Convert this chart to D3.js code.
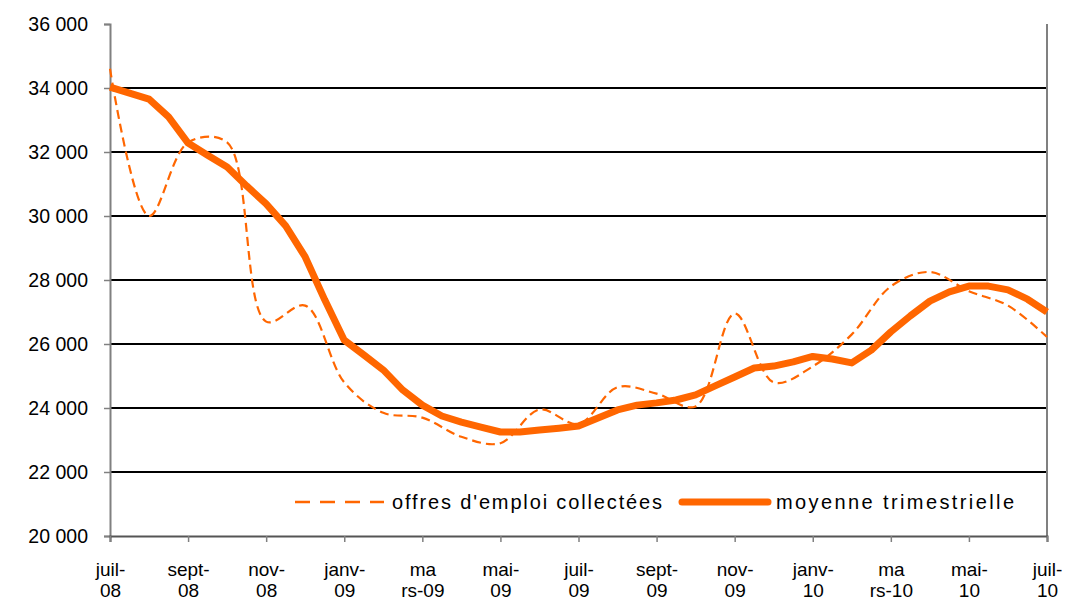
<!doctype html>
<html>
<head>
<meta charset="utf-8">
<script src="https://d3js.org/d3.v7.min.js"></script>
<style>
  body { margin: 0; background: #fff; }
  text { font-family: "Liberation Sans", Arial, sans-serif; fill: #000; }
</style>
</head>
<body>
<div id="chart"></div>
<script>
// tick labels (two lines each, one every two months)
var tickTop    = ["juil-", "sept-", "nov-", "janv-", "ma", "mai-", "juil-", "sept-", "nov-", "janv-", "ma", "mai-", "juil-"];
var tickBottom = ["08", "08", "08", "09", "rs-09", "09", "09", "09", "09", "10", "rs-10", "10", "10"];

// offres d'emploi collectées, monthly, juil-08 .. juil-10
var offres = [34600, 30000, 32300, 32300, 26700, 27200, 24800, 23850, 23700, 23100,
              22900, 23950, 23500, 24650, 24450, 24050, 26950, 24800, 25300, 26300,
              27800, 28250, 27650, 27200, 26220];

// moyenne trimestrielle, every half month
var moyenne = [34030, 33840, 33650, 33100, 32280, 31900, 31530, 30940, 30380, 29690,
               28720, 27380, 26120, 25660, 25190, 24560, 24090, 23750, 23560, 23400,
               23250, 23250, 23310, 23370, 23440, 23690, 23940, 24090, 24160, 24250,
               24410, 24690, 24970, 25250, 25310, 25440, 25610, 25530, 25410, 25810,
               26380, 26880, 27340, 27630, 27810, 27810, 27690, 27400, 27000];

var yTicks = [20000, 22000, 24000, 26000, 28000, 30000, 32000, 34000, 36000];

var W = 1084, H = 602;
var margin = {top: 24, right: 37, bottom: 66, left: 110};
var width = W - margin.left - margin.right,
    height = H - margin.top - margin.bottom;
var orange = "#ff6600";

var svg = d3.select("#chart").append("svg")
    .attr("width", W).attr("height", H)
    .style("display", "block");
var g = svg.append("g")
    .attr("transform", "translate(" + margin.left + "," + margin.top + ")");

var x = d3.scaleLinear().domain([0, 24]).range([0, width]);
var y = d3.scaleLinear().domain([20000, 36000]).range([height, 0]);

var fmt = function(d) { return d3.format(",")(d).replace(",", " "); };

// gridlines
g.append("g").selectAll("line")
  .data(yTicks.filter(function(d) { return d > 20000 && d < 36000; }))
  .enter().append("line")
    .attr("x1", 0).attr("x2", width)
    .attr("y1", function(d) { return y(d); })
    .attr("y2", function(d) { return y(d); })
    .attr("stroke", "#000").attr("stroke-width", 2);

// right border
g.append("line")
    .attr("x1", width).attr("x2", width).attr("y1", 0).attr("y2", height)
    .attr("stroke", "#808080").attr("stroke-width", 2);

// y axis
var yAxis = g.append("g")
    .call(d3.axisLeft(y).tickValues(yTicks).tickSize(6).tickPadding(16).tickFormat(fmt));
yAxis.select(".domain").attr("stroke", "#808080").attr("stroke-width", 2);
yAxis.selectAll(".tick line").attr("stroke", "#808080").attr("stroke-width", 1.5);
yAxis.selectAll("text").style("font-size", "19.5px").attr("dy", "0.35em");

// x axis
var xAxis = g.append("g")
    .attr("transform", "translate(0," + height + ")")
    .call(d3.axisBottom(x).tickValues(d3.range(0, 25, 2)).tickSize(6).tickFormat(""));
xAxis.select(".domain").attr("stroke", "#555").attr("stroke-width", 2);
xAxis.selectAll(".tick line").attr("stroke", "#808080").attr("stroke-width", 1.5);
xAxis.selectAll(".tick").each(function(d, i) {
  var t = d3.select(this).append("text")
      .attr("text-anchor", "middle").style("font-size", "19px");
  t.append("tspan").attr("x", 0).attr("y", 40).text(tickTop[i]);
  t.append("tspan").attr("x", 0).attr("y", 61).text(tickBottom[i]);
});

// series
var lineOffres = d3.line()
    .curve(d3.curveCatmullRom.alpha(0.5))
    .x(function(d, i) { return x(i); })
    .y(function(d) { return y(d); });
var lineMoy = d3.line()
    .x(function(d, i) { return x(i / 2); })
    .y(function(d) { return y(d); });

g.append("path").datum(offres)
    .attr("fill", "none").attr("stroke", orange).attr("stroke-width", 2.2)
    .attr("stroke-dasharray", "9,5")
    .attr("d", lineOffres);

g.append("path").datum(moyenne)
    .attr("fill", "none").attr("stroke", orange).attr("stroke-width", 7)
    .attr("stroke-linejoin", "round")
    .attr("d", lineMoy);

// legend
var leg = svg.append("g").attr("transform", "translate(0,502)");
leg.append("line").attr("x1", 295).attr("x2", 384).attr("y1", 0).attr("y2", 0)
    .attr("stroke", orange).attr("stroke-width", 2.5).attr("stroke-dasharray", "15,10");
leg.append("text").attr("x", 392).attr("y", 0).attr("dy", "0.35em")
    .style("font-size", "20px")
    .attr("textLength", 270).attr("lengthAdjust", "spacing")
    .text("offres d'emploi collectées");
leg.append("line").attr("x1", 682).attr("x2", 768).attr("y1", 0).attr("y2", 0)
    .attr("stroke", orange).attr("stroke-width", 7).attr("stroke-linecap", "round");
leg.append("text").attr("x", 776).attr("y", 0).attr("dy", "0.35em")
    .style("font-size", "20px")
    .attr("textLength", 238).attr("lengthAdjust", "spacing")
    .text("moyenne trimestrielle");
</script>
</body>
</html>
